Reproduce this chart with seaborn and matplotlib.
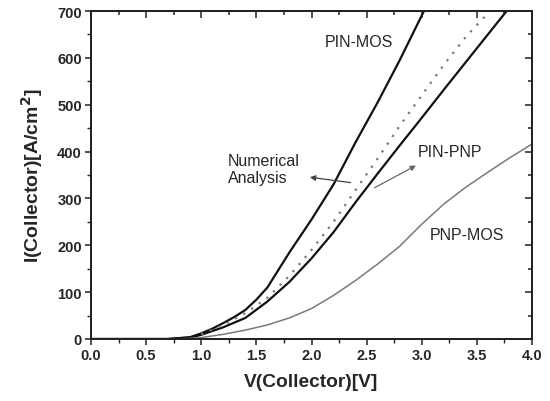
import matplotlib
matplotlib.use("Agg")
import matplotlib.pyplot as plt
import seaborn as sns
import pandas as pd
from matplotlib.ticker import MultipleLocator

# Data
v_pin_mos = [0.0, 0.7, 0.9, 1.0, 1.1, 1.2, 1.3, 1.4, 1.5, 1.6, 1.8, 2.0, 2.2, 2.4, 2.6, 2.8, 3.02]
i_pin_mos = [0, 0, 4, 12, 22, 34, 47, 62, 84, 110, 185, 255, 330, 420, 505, 595, 700]

v_pin_pnp = [0.0, 0.7, 0.9, 1.0, 1.2, 1.4, 1.6, 1.8, 2.0, 2.2, 2.4, 2.6, 2.8, 3.0, 3.2, 3.4, 3.6, 3.77]
i_pin_pnp = [0, 0, 3, 9, 25, 45, 80, 122, 172, 228, 292, 353, 413, 472, 532, 591, 650, 700]

v_numerical = [1.0, 1.2, 1.4, 1.6, 1.8, 2.0, 2.2, 2.4, 2.6, 2.8, 3.0, 3.2, 3.4, 3.62]
i_numerical = [10, 30, 55, 88, 135, 190, 250, 318, 385, 455, 520, 585, 645, 700]

v_pnp_mos = [0.0, 0.8, 1.0, 1.2, 1.4, 1.6, 1.8, 2.0, 2.2, 2.4, 2.6, 2.8, 3.0, 3.2, 3.4, 3.6, 3.8, 4.0]
i_pnp_mos = [0, 0, 3, 10, 19, 30, 45, 65, 93, 125, 160, 198, 245, 288, 324, 356, 387, 416]

x_ticks = [0.0, 0.5, 1.0, 1.5, 2.0, 2.5, 3.0, 3.5, 4.0]
y_ticks = [0, 100, 200, 300, 400, 500, 600, 700]

sns.set_style("ticks")
plt.rcParams['font.family'] = ['Liberation Sans', 'DejaVu Sans']

fig = plt.figure(figsize=(5.5, 4.02), dpi=100)
rect = [91/550, 1-340/402, (532-91)/550, (340-12)/402]
ax = fig.add_axes(rect)

sns.lineplot(x=v_pin_mos, y=i_pin_mos, ax=ax, color="#111111", lw=1.6, sort=False)
sns.lineplot(x=v_pin_pnp, y=i_pin_pnp, ax=ax, color="#111111", lw=1.6, sort=False)
sns.lineplot(x=v_numerical, y=i_numerical, ax=ax, color="#777777", lw=1.6,
             linestyle=(0, (1, 3.2)), sort=False)
sns.lineplot(x=v_pnp_mos, y=i_pnp_mos, ax=ax, color="#7a7a7a", lw=1.1, sort=False)

ax.set_xlim(0, 4.0)
ax.set_ylim(0, 700)
ax.set_xticks(x_ticks)
ax.set_yticks(y_ticks)
ax.set_xticklabels([f"{t:.1f}" for t in x_ticks], fontweight="bold", fontsize=10.5)
ax.set_yticklabels([str(t) for t in y_ticks], fontweight="bold", fontsize=10.5)
ax.xaxis.set_minor_locator(MultipleLocator(0.25))
ax.yaxis.set_minor_locator(MultipleLocator(50))
ax.tick_params(which="major", direction="out", width=1.1, color="#222222", pad=2, length=4.5)
ax.tick_params(which="minor", direction="out", width=1.0, color="#222222", length=3)

# inward mirrored ticks on top and right
axt = ax.twiny()
axt.set_xlim(0, 4.0)
axt.set_xticks(x_ticks)
axt.xaxis.set_minor_locator(MultipleLocator(0.25))
axt.tick_params(axis="x", which="both", direction="in", top=True, labeltop=False,
                width=1.1, color="#222222")
axt.tick_params(axis="x", which="major", length=5)
axt.tick_params(axis="x", which="minor", length=3)
axr = ax.twinx()
axr.set_ylim(0, 700)
axr.set_yticks(y_ticks)
axr.yaxis.set_minor_locator(MultipleLocator(50))
axr.tick_params(axis="y", which="both", direction="in", right=True, labelright=False,
                width=1.1, color="#222222")
axr.tick_params(axis="y", which="major", length=5)
axr.tick_params(axis="y", which="minor", length=3)

for a in (ax, axt, axr):
    for s in a.spines.values():
        s.set_linewidth(1.2)
        s.set_color("#222222")
        s.set_visible(True)

ax.set_xlabel("V(Collector)[V]", fontsize=13.8, fontweight="bold", labelpad=8)
ax.set_ylabel("I(Collector)[A/cm$^\\mathbf{2}$]", fontsize=14, fontweight="bold", labelpad=9)

ax.text(2.43, 634, "PIN-MOS", fontsize=11.5, ha="center", va="center")
ax.text(3.26, 401, "PIN-PNP", fontsize=11.5, ha="center", va="center")
ax.text(3.41, 224, "PNP-MOS", fontsize=11.5, ha="center", va="center")
ax.text(1.24, 363, "Numerical\nAnalysis", fontsize=11.5, ha="left", va="center", linespacing=1.1)

ax.annotate("", xy=(1.96, 346), xytext=(2.38, 333),
            arrowprops=dict(arrowstyle="-|>", color="#444444", lw=0.9, mutation_scale=8))
ax.annotate("", xy=(2.97, 373), xytext=(2.55, 320),
            arrowprops=dict(arrowstyle="-|>", color="#666666", lw=0.9, mutation_scale=8))

fig.savefig("out.png", dpi=100)
